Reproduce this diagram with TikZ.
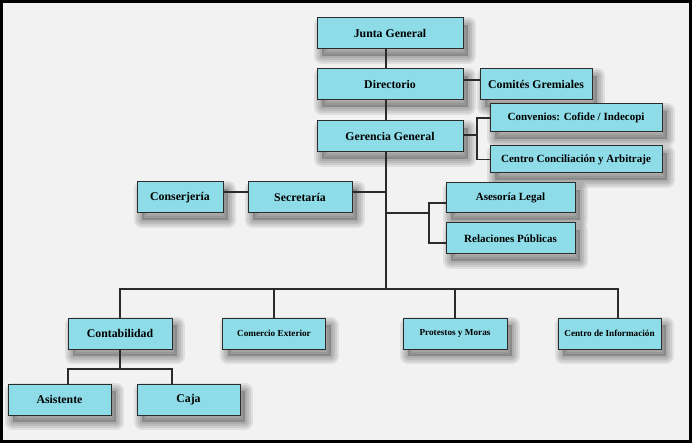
\documentclass[tikz,border=0pt]{standalone}
\usepackage{fontspec}
\setmainfont{Liberation Serif}
\definecolor{boxfill}{HTML}{8DDCE8}
\definecolor{bgcol}{HTML}{F2F2F2}
\definecolor{edgecol}{HTML}{2B2B2B}
\tikzset{
  shadowring/.style={preaction={draw=black, opacity=0.08, line width=#1, line join=round,
    transform canvas={xshift=5pt, yshift=-7pt}}},
  shadowfill/.style={preaction={fill=black, opacity=0.2,
    transform canvas={xshift=5pt, yshift=-7pt}}},
  orgbox/.style={shadowfill, shadowring=16pt, shadowring=12pt, shadowring=8pt, shadowring=4pt,
    draw=edgecol, line width=1pt, fill=boxfill, inner sep=0pt,
    font=\bfseries\fontsize{11.8}{13}\selectfont},
  midtext/.style={font=\bfseries\fontsize{11}{12}\selectfont},
  smalltext/.style={font=\bfseries\fontsize{9.2}{11}\selectfont},
  link/.style={draw=edgecol, line width=1.3pt},
}
\begin{document}
\begin{tikzpicture}[x=1pt,y=-1pt]
\path[use as bounding box, fill=bgcol] (0,0) rectangle (692,443);
% boxes
\node[orgbox, minimum width=146, minimum height=31] (jg) at (390,33.5) {Junta General};
\node[orgbox, minimum width=146, minimum height=31] (dir) at (390,84.5) {Directorio};
\node[orgbox, minimum width=112, minimum height=31] (com) at (536,84.5) {Comités Gremiales};
\node[orgbox, minimum width=146, minimum height=31] (ger) at (390,136.5) {Gerencia General};
\node[orgbox, midtext, minimum width=172, minimum height=28] (conv) at (576,118) {Convenios: Cofide / Indecopi};
\node[orgbox, midtext, minimum width=172, minimum height=27] (cca) at (576,159.5) {Centro Conciliación y Arbitraje};
\node[orgbox, minimum width=86, minimum height=31] (cons) at (180,197.5) {Conserjería};
\node[orgbox, minimum width=104, minimum height=31] (sec) at (300,197.5) {Secretaría};
\node[orgbox, midtext, minimum width=129, minimum height=30] (ase) at (510.5,198) {Asesoría Legal};
\node[orgbox, midtext, minimum width=129, minimum height=31] (rel) at (510.5,238.5) {Relaciones Públicas};
\node[orgbox, minimum width=104, minimum height=31] (cont) at (120,333.5) {Contabilidad};
\node[orgbox, smalltext, minimum width=103, minimum height=31] (ce) at (274,333.5) {Comercio Exterior};
\node[orgbox, smalltext, minimum width=104, minimum height=31] (pm) at (455,333.5) {Protestos y Moras};
\node[orgbox, smalltext, minimum width=103, minimum height=31] (ci) at (609.5,333.5) {Centro de Información};
\node[orgbox, minimum width=103, minimum height=31] (asi) at (59.5,399.5) {Asistente};
\node[orgbox, minimum width=103, minimum height=31] (caja) at (188.5,399.5) {Caja};
% helper coordinates
\coordinate (bus) at (386,289);
\coordinate (jS) at (386,213);
\coordinate (aB) at (429,213);
\coordinate (gB) at (477,0);
\coordinate (cB) at (120,369);
\coordinate (gR) at ([yshift=1.5pt]ger.east);
\coordinate (secR) at ([yshift=5.5pt]sec.east);
\coordinate (aL) at ([yshift=-5pt]ase.west);
\coordinate (rL) at ([yshift=-4.5pt]rel.west);
\coordinate (ciT) at ([xshift=8.5pt]ci.north);
\coordinate (asT) at ([xshift=8.5pt]asi.north);
\coordinate (cjT) at ([xshift=-16.5pt]caja.north);
% connectors
\draw[link] ([xshift=-4pt]jg.south) -- ([xshift=-4pt]dir.north);
\draw[link] ([xshift=-4pt]dir.south) -- ([xshift=-4pt]ger.north);
\draw[link] ([yshift=4.5pt]dir.east) -- ([yshift=4.5pt]com.west);
\draw[link] ([xshift=-4pt]ger.south) -- (bus);
\draw[link] (gR) -- (gR -| gB);
\draw[link] (conv.west) -- (conv.west -| gB) -- (cca.west -| gB) -- (cca.west);
\draw[link] ([yshift=5.5pt]cons.east) -- ([yshift=5.5pt]sec.west);
\draw[link] (secR) -- (secR -| bus);
\draw[link] (jS) -- (aB);
\draw[link] (aL) -- (aL -| aB) -- (rL -| aB) -- (rL);
\draw[link] (cont.north) -- (cont.north |- bus) -- (ciT |- bus) -- (ciT);
\draw[link] (ce.north) -- (ce.north |- bus);
\draw[link] (pm.north) -- (pm.north |- bus);
\draw[link] (cont.south) -- (cB);
\draw[link] (asT) -- (asT |- cB) -- (cjT |- cB) -- (cjT);
% frame
\draw[black, line width=3pt] (1.5,1.5) rectangle (690.5,441.5);
\end{tikzpicture}
\end{document}
